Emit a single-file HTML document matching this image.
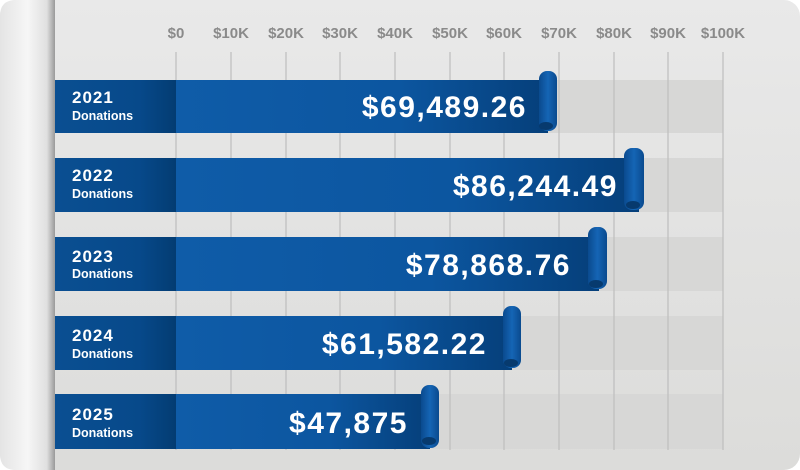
<!DOCTYPE html>
<html><head><meta charset="utf-8"><style>
html,body{margin:0;padding:0;background:#fff;}
svg{display:block}
text{font-family:"Liberation Sans",sans-serif;}
</style></head><body>
<svg width="800" height="470" viewBox="0 0 800 470" xmlns="http://www.w3.org/2000/svg">
<defs>
<linearGradient id="paper" x1="0" y1="0" x2="0" y2="1"><stop offset="0" stop-color="#e9e9e9"/><stop offset="1" stop-color="#dcdcda"/></linearGradient>
<linearGradient id="curl" x1="0" y1="0" x2="1" y2="0"><stop offset="0" stop-color="#e4e4e4"/><stop offset="0.5" stop-color="#f6f6f6"/><stop offset="0.85" stop-color="#e0e0e0"/><stop offset="1" stop-color="#9a9a9a"/></linearGradient>
<linearGradient id="lab" x1="0" y1="0" x2="1" y2="0"><stop offset="0" stop-color="#0a4f92"/><stop offset="0.7" stop-color="#07498a"/><stop offset="1" stop-color="#033c72"/></linearGradient>
<linearGradient id="scr" x1="0" y1="0" x2="1" y2="0"><stop offset="0" stop-color="#0a4a8e"/><stop offset="0.5" stop-color="#1565b5"/><stop offset="1" stop-color="#0a4a8e"/></linearGradient>
</defs>
<rect x="0" y="0" width="800" height="470" rx="16" fill="url(#paper)"/>
<g fill="#d7d7d6">
<rect x="55" y="80" width="668" height="53"/><rect x="55" y="158" width="668" height="54"/><rect x="55" y="237" width="668" height="54"/><rect x="55" y="316" width="668" height="54"/><rect x="55" y="394" width="668" height="55"/>
</g>
<g stroke="#bdbdbd" stroke-width="1.2">
<line x1="176" y1="52" x2="176" y2="450"/><line x1="231" y1="52" x2="231" y2="450"/><line x1="286" y1="52" x2="286" y2="450"/><line x1="340" y1="52" x2="340" y2="450"/><line x1="395" y1="52" x2="395" y2="450"/><line x1="450" y1="52" x2="450" y2="450"/><line x1="504" y1="52" x2="504" y2="450"/><line x1="559" y1="52" x2="559" y2="450"/><line x1="614" y1="52" x2="614" y2="450"/><line x1="668" y1="52" x2="668" y2="450"/><line x1="723" y1="52" x2="723" y2="450"/>
</g>
<g fill="#8a8a8a" font-size="15" font-weight="bold" text-anchor="middle">
<text x="176" y="38">$0</text><text x="231" y="38">$10K</text><text x="286" y="38">$20K</text><text x="340" y="38">$30K</text><text x="395" y="38">$40K</text><text x="450" y="38">$50K</text><text x="504" y="38">$60K</text><text x="559" y="38">$70K</text><text x="614" y="38">$80K</text><text x="668" y="38">$90K</text><text x="723" y="38">$100K</text>
</g>
<path d="M0 16 Q0 0 16 0 L55 0 L55 470 L16 470 Q0 470 0 454 Z" fill="url(#curl)"/>

<!-- bars -->
<g id="bars">
<linearGradient id="b1" x1="0" y1="0" x2="1" y2="0"><stop offset="0" stop-color="#0f5ca8"/><stop offset="0.6" stop-color="#0c56a0"/><stop offset="1" stop-color="#053f7a"/></linearGradient>
</g>
<!-- row helper drawn explicitly -->
<g>
<rect x="176" y="80" width="372" height="53" fill="url(#b1)"/>
<rect x="55" y="80" width="121" height="53" fill="url(#lab)"/>
<rect x="539" y="71" width="18" height="60" rx="8" fill="url(#scr)"/>
<ellipse cx="546" cy="126" rx="7" ry="4" fill="#073a6e"/>
<text x="72" y="103" fill="#fff" font-size="17" font-weight="bold" letter-spacing="1">2021</text>
<text x="72" y="120" fill="#fff" font-size="12.5" font-weight="bold">Donations</text>
<text x="527" y="117" fill="#fff" font-size="30" font-weight="bold" text-anchor="end" letter-spacing="1.5">$69,489.26</text>
</g>
<g>
<rect x="176" y="158" width="463" height="54" fill="url(#b1)"/>
<rect x="55" y="158" width="121" height="54" fill="url(#lab)"/>
<rect x="624" y="148" width="20" height="62" rx="8" fill="url(#scr)"/>
<ellipse cx="633" cy="205" rx="7" ry="4" fill="#073a6e"/>
<text x="72" y="181" fill="#fff" font-size="17" font-weight="bold" letter-spacing="1">2022</text>
<text x="72" y="198" fill="#fff" font-size="12.5" font-weight="bold">Donations</text>
<text x="618" y="196" fill="#fff" font-size="30" font-weight="bold" text-anchor="end" letter-spacing="1.5">$86,244.49</text>
</g>
<g>
<rect x="176" y="237" width="423" height="54" fill="url(#b1)"/>
<rect x="55" y="237" width="121" height="54" fill="url(#lab)"/>
<rect x="588" y="227" width="19" height="62" rx="8" fill="url(#scr)"/>
<ellipse cx="596" cy="284" rx="7" ry="4" fill="#073a6e"/>
<text x="72" y="262" fill="#fff" font-size="17" font-weight="bold" letter-spacing="1">2023</text>
<text x="72" y="278" fill="#fff" font-size="12.5" font-weight="bold">Donations</text>
<text x="571" y="275" fill="#fff" font-size="30" font-weight="bold" text-anchor="end" letter-spacing="1.5">$78,868.76</text>
</g>
<g>
<rect x="176" y="316" width="336" height="54" fill="url(#b1)"/>
<rect x="55" y="316" width="121" height="54" fill="url(#lab)"/>
<rect x="503" y="306" width="18" height="62" rx="8" fill="url(#scr)"/>
<ellipse cx="511" cy="363" rx="7" ry="4" fill="#073a6e"/>
<text x="72" y="341" fill="#fff" font-size="17" font-weight="bold" letter-spacing="1">2024</text>
<text x="72" y="358" fill="#fff" font-size="12.5" font-weight="bold">Donations</text>
<text x="487" y="354" fill="#fff" font-size="30" font-weight="bold" text-anchor="end" letter-spacing="1.5">$61,582.22</text>
</g>
<g>
<rect x="176" y="394" width="254" height="55" fill="url(#b1)"/>
<rect x="55" y="394" width="121" height="55" fill="url(#lab)"/>
<rect x="421" y="385" width="18" height="63" rx="8" fill="url(#scr)"/>
<ellipse cx="429" cy="441" rx="7" ry="4" fill="#073a6e"/>
<text x="72" y="420" fill="#fff" font-size="17" font-weight="bold" letter-spacing="1">2025</text>
<text x="72" y="437" fill="#fff" font-size="12.5" font-weight="bold">Donations</text>
<text x="408" y="433" fill="#fff" font-size="30" font-weight="bold" text-anchor="end" letter-spacing="1.5">$47,875</text>
</g>
</svg>
</body></html>
